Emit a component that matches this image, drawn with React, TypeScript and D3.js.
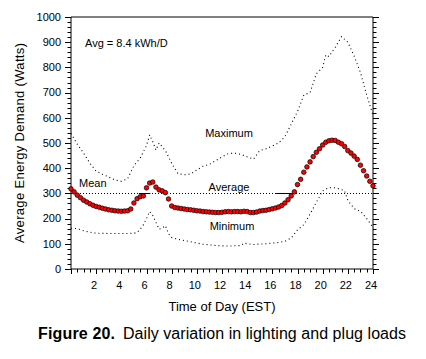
import React from "react";
import * as d3 from "d3";

const meanHours: number[] = [
  0, 0.25, 0.5, 0.75, 1, 1.25, 1.5, 1.75, 2, 2.25, 2.5, 2.75, 3, 3.25, 3.5, 3.75,
  4, 4.25, 4.5, 4.75, 5, 5.25, 5.5, 5.75, 6, 6.25, 6.5, 6.75, 7, 7.25, 7.5, 7.75,
  8, 8.25, 8.5, 8.75, 9, 9.25, 9.5, 9.75, 10, 10.25, 10.5, 10.75, 11, 11.25, 11.5, 11.75,
  12, 12.25, 12.5, 12.75, 13, 13.25, 13.5, 13.75, 14, 14.25, 14.5, 14.75, 15, 15.25, 15.5, 15.75,
  16, 16.25, 16.5, 16.75, 17, 17.25, 17.5, 17.75, 18, 18.25, 18.5, 18.75, 19, 19.25, 19.5, 19.75,
  20, 20.25, 20.5, 20.75, 21, 21.25, 21.5, 21.75, 22, 22.25, 22.5, 22.75, 23, 23.25, 23.5, 23.75, 24,
];
const meanValues: number[] = [
  318, 306, 293, 283, 273, 266, 259, 253, 248, 245, 241, 238, 235, 233, 231, 230,
  229, 230, 231, 238, 262, 279, 287, 290, 322, 341, 345, 325, 314, 310, 303, 278,
  250, 244, 242, 240, 238, 236, 235, 233, 231, 230, 228, 227, 226, 225, 224, 224,
  225, 227, 228, 227, 228, 228, 227, 229, 228, 224, 224, 226, 230, 232, 233, 236,
  239, 242, 246, 252, 262, 275, 290, 306, 335, 356, 384, 405, 425, 446, 463, 477,
  492, 503, 509, 511, 510, 503, 497, 486, 470, 460, 448, 435, 412, 390, 369, 348, 330,
];

const maxHours: number[] = [
  0, 0.5, 1, 1.5, 2, 2.5, 3, 3.5, 4, 4.5, 5, 5.5, 6, 6.25, 6.5, 6.75, 7, 7.5, 8, 8.5,
  9, 9.5, 10, 10.5, 11, 11.5, 12, 12.5, 13, 13.5, 14, 14.5, 15, 15.5, 16, 16.5, 17, 17.5,
  18, 18.5, 19, 19.5, 20, 20.25, 20.5, 21, 21.5, 22, 22.5, 23, 23.5, 24,
];
const maxValues: number[] = [
  538, 495, 460, 420, 388, 376, 365, 353, 348, 358, 410, 440, 490, 532, 505, 472, 500, 470, 420, 378,
  374, 377, 393, 408, 415, 430, 445, 458, 460, 455, 445, 436, 470, 477, 488, 500, 525, 575,
  625, 690, 700, 775, 800, 850, 843, 880, 922, 900, 845, 780, 690, 610,
];

const minHours: number[] = [
  0, 0.5, 1, 1.5, 2, 3, 4, 4.5, 5, 5.25, 5.5, 5.75, 6, 6.25, 6.5, 6.75, 7, 7.25, 7.5, 7.75,
  8, 8.5, 9, 9.5, 10, 10.5, 11, 11.5, 12, 12.5, 13, 13.5, 13.75, 14, 14.5, 15, 15.5, 16,
  16.5, 17, 17.5, 18, 18.5, 19, 19.5, 20, 20.5, 21, 21.5, 21.75, 22, 22.5, 22.75, 23, 23.5, 24,
];
const minValues: number[] = [
  162, 160, 152, 146, 142, 141, 141, 141, 142, 145, 158, 175, 200, 228, 212, 185, 158, 162, 172, 140,
  125, 118, 113, 108, 103, 98, 96, 93, 92, 91, 92, 93, 103, 100, 97, 99, 100, 103,
  105, 110, 123, 155, 176, 218, 265, 310, 323, 322, 315, 310, 272, 240, 233, 230, 200, 165,
];

const averageValue = 300;
const solidSegments: [number, number][] = [
  [5.4, 6.3],
  [16.3, 17.6],
];

const xTickLabels: number[] = [2, 4, 6, 8, 10, 12, 14, 16, 18, 20, 22, 24];
const yTickLabels: number[] = [0, 100, 200, 300, 400, 500, 600, 700, 800, 900, 1000];

const FONT = "'Liberation Sans', Arial, sans-serif";

export default function App() {
  const W = 426;
  const H = 359;
  const left = 71;
  const right = 373;
  const top = 17;
  const bottom = 269;

  const x = d3.scaleLinear().domain([0, 24]).range([left, right]);
  const y = d3.scaleLinear().domain([0, 1000]).range([bottom, top]);

  const line = d3
    .line<[number, number]>()
    .x((d) => x(d[0]))
    .y((d) => y(d[1]));

  const maxPts: [number, number][] = maxHours.map((h, i) => [h, maxValues[i]]);
  const minPts: [number, number][] = minHours.map((h, i) => [h, minValues[i]]);

  const xMinor = d3.range(0, 24.01, 0.5);
  const yMinor = d3.range(0, 1000.01, 20);

  return (
    <svg
      width={W}
      height={H}
      style={{ position: "absolute", left: 0, top: 0, background: "#fff" }}
      fontFamily={FONT}
    >
      <rect x={0} y={0} width={W} height={H} fill="#fff" />
      {/* frame */}
      <line x1={left} x2={right} y1={top} y2={top} stroke="#000" strokeWidth={1} />
      <line x1={left} x2={right} y1={bottom} y2={bottom} stroke="#000" strokeWidth={1} />
      <line x1={left} x2={left} y1={top} y2={bottom} stroke="#000" strokeWidth={1} />
      <line x1={right} x2={right} y1={top} y2={bottom} stroke="#000" strokeWidth={1} />

      {/* y ticks left & right */}
      {yMinor.map((v) => {
        const major = Math.round(v) % 100 === 0;
        const len = major ? 6 : 3.5;
        const yy = Math.round(y(v)) + 0.5;
        return (
          <g key={"yt" + v}>
            <line x1={left - len} x2={left} y1={yy} y2={yy} stroke="#000" strokeWidth={1} />
            <line x1={right} x2={right + len} y1={yy} y2={yy} stroke="#000" strokeWidth={1} />
          </g>
        );
      })}
      {yTickLabels.map((v) => (
        <text
          key={"yl" + v}
          x={left - 10}
          y={y(v)}
          dy="0.35em"
          textAnchor="end"
          fontSize={11}
          fill="#000"
        >
          {v}
        </text>
      ))}

      {/* x ticks */}
      {xMinor.map((h) => {
        const major = Math.abs(h - Math.round(h / 2) * 2) < 1e-6;
        const len = major ? 5 : 3.5;
        const xx = Math.round(x(h)) + 0.5;
        return <line key={"xt" + h} x1={xx} x2={xx} y1={bottom} y2={bottom + len} stroke="#000" strokeWidth={1} />;
      })}
      {xTickLabels.map((h) => (
        <text key={"xl" + h} x={x(h) - 2} y={bottom + 20} textAnchor="middle" fontSize={11} fill="#000">
          {h}
        </text>
      ))}

      {/* average line */}
      <line
        x1={left}
        x2={right}
        y1={Math.round(y(averageValue)) + 0.5}
        y2={Math.round(y(averageValue)) + 0.5}
        stroke="#000"
        strokeWidth={1}
        strokeDasharray="1 2"
      />
      {solidSegments.map(([a, b], i) => (
        <line
          key={"seg" + i}
          x1={x(a)}
          x2={x(b)}
          y1={Math.round(y(averageValue)) + 0.5}
          y2={Math.round(y(averageValue)) + 0.5}
          stroke="#000"
          strokeWidth={1}
        />
      ))}

      {/* max / min dotted */}
      <path d={line(maxPts) ?? ""} fill="none" stroke="#000" strokeWidth={1.1} strokeDasharray="1 3" />
      <path d={line(minPts) ?? ""} fill="none" stroke="#000" strokeWidth={1.1} strokeDasharray="1 3" />

      {/* mean dots */}
      {meanHours.map((h, i) => (
        <circle
          key={"m" + i}
          cx={x(h)}
          cy={y(meanValues[i])}
          r={2.3}
          fill="#ff0000"
          stroke="#000"
          strokeWidth={0.7}
        />
      ))}

      {/* annotations */}
      <text x={85} y={47} fontSize={11} fill="#000">Avg = 8.4 kWh/D</text>
      <text x={229} y={137} fontSize={11} textAnchor="middle" fill="#000">Maximum</text>
      <text x={229} y={191} fontSize={11} textAnchor="middle" fill="#000">Average</text>
      <text x={232} y={230} fontSize={11} textAnchor="middle" fill="#000">Minimum</text>
      <text x={79} y={187} fontSize={11} fill="#000">Mean</text>

      {/* axis titles */}
      <text
        transform={`translate(24,${(top + bottom) / 2}) rotate(-90)`}
        textAnchor="middle"
        fontSize={13}
        fill="#000"
        textLength={200}
        lengthAdjust="spacing"
      >
        Average Energy Demand (Watts)
      </text>
      <text x={222} y={311} textAnchor="middle" fontSize={13} fill="#000">
        Time of Day (EST)
      </text>
      <text x={38} y={339} fontSize={16} fontWeight="bold" fill="#000" textLength={77} lengthAdjust="spacing">
        Figure 20.
      </text>
      <text x={123} y={339} fontSize={16} fill="#000" textLength={283} lengthAdjust="spacing">
        Daily variation in lighting and plug loads
      </text>
    </svg>
  );
}
